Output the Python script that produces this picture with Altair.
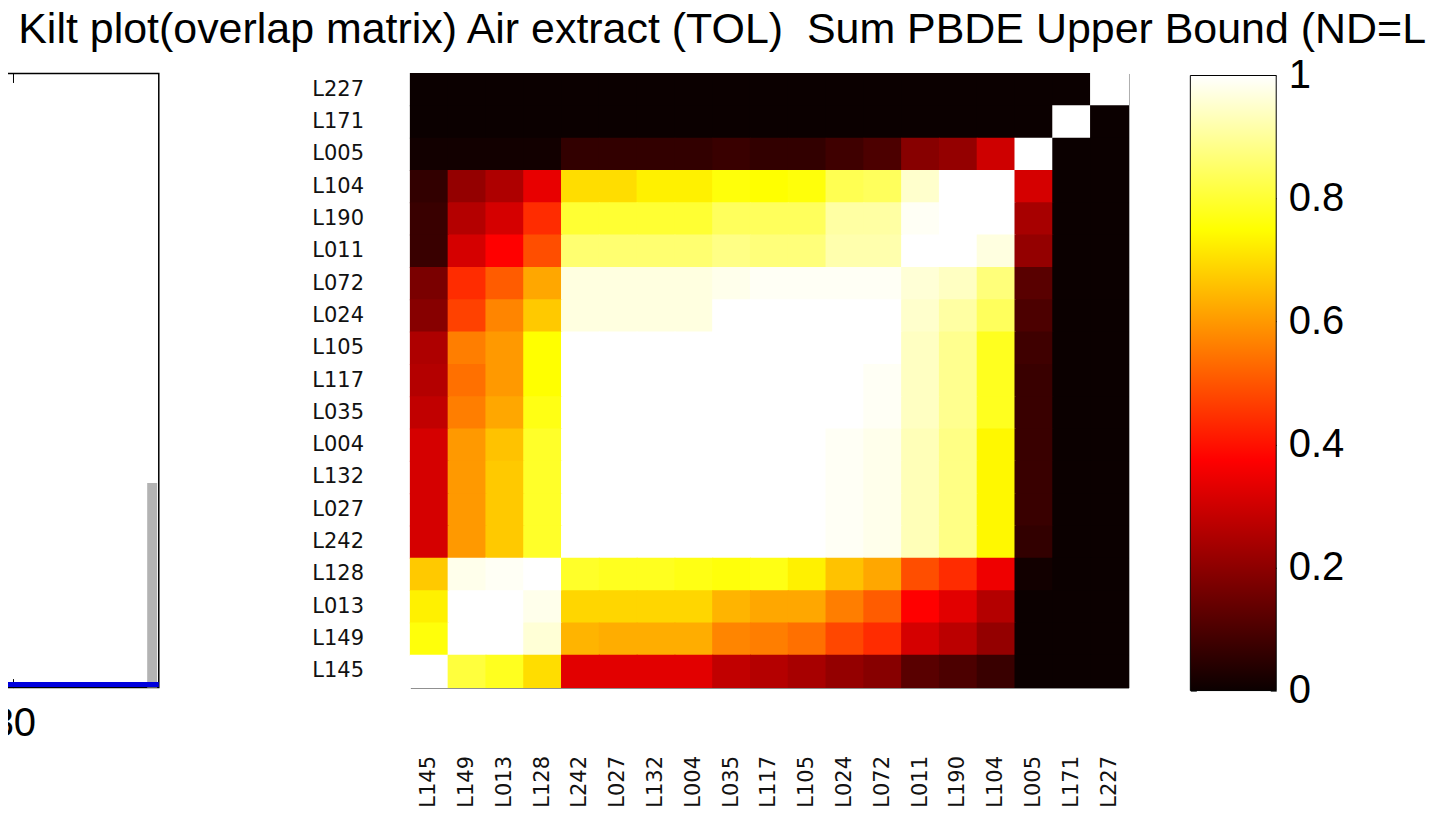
import altair as alt
import pandas as pd

title_text = "Kilt plot(overlap matrix) Air extract (TOL)\u00a0 Sum PBDE Upper Bound (ND=L"

row_labels = ["L227", "L171", "L005", "L104", "L190", "L011", "L072", "L024", "L105", "L117",
              "L035", "L004", "L132", "L027", "L242", "L128", "L013", "L149", "L145"]
col_labels = ["L145", "L149", "L013", "L128", "L242", "L027", "L132", "L004", "L035", "L117",
              "L105", "L024", "L072", "L011", "L190", "L104", "L005", "L171", "L227"]

# overlap values, one list per row (columns in col_labels order)
r_L227 = [0.00, 0.00, 0.00, 0.00, 0.00, 0.00, 0.00, 0.00, 0.00, 0.00, 0.00, 0.00, 0.00, 0.00, 0.00, 0.00, 0.00, 0.00, 1.00]
r_L171 = [0.00, 0.00, 0.00, 0.00, 0.00, 0.00, 0.00, 0.00, 0.00, 0.00, 0.00, 0.00, 0.00, 0.00, 0.00, 0.00, 0.00, 1.00, 0.00]
r_L005 = [0.01, 0.01, 0.01, 0.01, 0.06, 0.06, 0.06, 0.06, 0.07, 0.06, 0.06, 0.08, 0.10, 0.19, 0.21, 0.30, 1.00, 0.00, 0.00]
r_L104 = [0.06, 0.21, 0.25, 0.34, 0.70, 0.70, 0.73, 0.73, 0.76, 0.75, 0.76, 0.83, 0.84, 0.95, 1.00, 1.00, 0.31, 0.00, 0.00]
r_L190 = [0.07, 0.26, 0.31, 0.44, 0.80, 0.80, 0.80, 0.80, 0.84, 0.84, 0.84, 0.91, 0.91, 0.99, 1.00, 1.00, 0.24, 0.00, 0.00]
r_L011 = [0.07, 0.31, 0.375, 0.49, 0.86, 0.86, 0.86, 0.86, 0.88, 0.87, 0.87, 0.92, 0.92, 1.00, 1.00, 0.97, 0.21, 0.00, 0.00]
r_L072 = [0.17, 0.44, 0.51, 0.62, 0.97, 0.97, 0.97, 0.97, 0.98, 0.99, 0.99, 0.99, 0.99, 0.96, 0.94, 0.87, 0.12, 0.00, 0.00]
r_L024 = [0.19, 0.47, 0.57, 0.67, 0.97, 0.97, 0.97, 0.97, 1.00, 1.00, 1.00, 1.00, 1.00, 0.95, 0.91, 0.84, 0.10, 0.00, 0.00]
r_L105 = [0.25, 0.56, 0.60, 0.75, 1.00, 1.00, 1.00, 1.00, 1.00, 1.00, 1.00, 1.00, 1.00, 0.94, 0.89, 0.78, 0.08, 0.00, 0.00]
r_L117 = [0.26, 0.54, 0.60, 0.75, 1.00, 1.00, 1.00, 1.00, 1.00, 1.00, 1.00, 1.00, 0.99, 0.94, 0.89, 0.78, 0.07, 0.00, 0.00]
r_L035 = [0.28, 0.56, 0.62, 0.77, 1.00, 1.00, 1.00, 1.00, 1.00, 1.00, 1.00, 1.00, 0.99, 0.94, 0.89, 0.78, 0.07, 0.00, 0.00]
r_L004 = [0.31, 0.60, 0.66, 0.79, 1.00, 1.00, 1.00, 1.00, 1.00, 1.00, 1.00, 0.99, 0.98, 0.93, 0.88, 0.74, 0.07, 0.00, 0.00]
r_L132 = [0.31, 0.60, 0.67, 0.79, 1.00, 1.00, 1.00, 1.00, 1.00, 1.00, 1.00, 0.99, 0.98, 0.93, 0.88, 0.74, 0.07, 0.00, 0.00]
r_L027 = [0.31, 0.60, 0.67, 0.79, 1.00, 1.00, 1.00, 1.00, 1.00, 1.00, 1.00, 0.99, 0.98, 0.93, 0.88, 0.74, 0.07, 0.00, 0.00]
r_L242 = [0.31, 0.60, 0.67, 0.79, 1.00, 1.00, 1.00, 1.00, 1.00, 1.00, 1.00, 0.99, 0.98, 0.93, 0.88, 0.74, 0.06, 0.00, 0.00]
r_L128 = [0.67, 0.98, 0.99, 1.00, 0.79, 0.78, 0.78, 0.77, 0.76, 0.77, 0.73, 0.66, 0.62, 0.49, 0.44, 0.35, 0.01, 0.00, 0.00]
r_L013 = [0.73, 1.00, 1.00, 0.98, 0.69, 0.69, 0.69, 0.69, 0.64, 0.62, 0.62, 0.56, 0.51, 0.375, 0.33, 0.26, 0.00, 0.00, 0.00]
r_L149 = [0.76, 1.00, 1.00, 0.96, 0.64, 0.63, 0.63, 0.63, 0.57, 0.56, 0.54, 0.48, 0.44, 0.31, 0.27, 0.21, 0.00, 0.00, 0.00]
r_L145 = [1.00, 0.81, 0.78, 0.70, 0.33, 0.33, 0.33, 0.33, 0.28, 0.26, 0.24, 0.21, 0.19, 0.12, 0.10, 0.07, 0.00, 0.00, 0.00]

overlap_rows = [r_L227, r_L171, r_L005, r_L104, r_L190, r_L011, r_L072, r_L024, r_L105, r_L117,
                r_L035, r_L004, r_L132, r_L027, r_L242, r_L128, r_L013, r_L149, r_L145]

# colour bar: one bar spanning 0..1, ticks every 0.2
cbar_lo = [0.0]
cbar_hi = [1.0]
cbar_x0 = [0.0]
cbar_x1 = [1.0]
cbar_ticks = [0, 0.2, 0.4, 0.6, 0.8, 1]
cbar_domain = [-0.0017, 1.0033]

# partially visible left panel (bar + baseline line)
side_bar_x = [31.03]
side_bar_y = [2.0]
side_line_x = [29.4, 31.3]
side_line_y = [0.03, 0.03]
side_x_ticks = [30]
side_y_ticks = [0, 1, 2, 3, 4, 5, 6]
side_x_domain = [29.634, 31.042]
side_y_domain = [0, 6]

# MATLAB "hot" colormap stops
hot_stops = [0, 0.375, 0.75, 1]
hot_colors = ["#0b0000", "#ff0000", "#ffff00", "#ffffff"]

records = []
for rlab, vals in zip(row_labels, overlap_rows):
    for clab, v in zip(col_labels, vals):
        records.append({"row": rlab, "col": clab, "value": v})
heat_df = pd.DataFrame(records)

color_scale = alt.Scale(domain=hot_stops, range=hot_colors, interpolate="rgb")

heat = alt.Chart(heat_df).mark_rect(
    width=alt.RelativeBandSize(1.03), height=alt.RelativeBandSize(1.03)
).encode(
    x=alt.X("col:N", sort=col_labels, title=None,
            axis=alt.Axis(labelAngle=270, labelFont="DejaVu Sans", labelFontSize=21,
                          labelColor="#111111", ticks=False, domain=False,
                          labelPadding=68, grid=False)),
    y=alt.Y("row:N", sort=row_labels, title=None,
            axis=alt.Axis(labelFont="DejaVu Sans", labelFontSize=21, labelColor="#111111",
                          ticks=False, domain=False, labelPadding=47, grid=False)),
    color=alt.Color("value:Q", scale=color_scale, legend=None),
).properties(width=719, height=615,
             view=alt.ViewBackground(stroke="#444444", strokeWidth=1))

# colour bar panel
hot_gradient = alt.LinearGradient(
    gradient="linear",
    stops=[alt.GradientStop(offset=s, color=c) for s, c in zip(hot_stops, hot_colors)],
    x1=0, x2=0, y1=1, y2=0,
)
cbar_df = pd.DataFrame({"lo": cbar_lo, "hi": cbar_hi, "x0": cbar_x0, "x1": cbar_x1})
cscale_y = alt.Scale(domain=cbar_domain, nice=False, zero=False)
cscale_x = alt.Scale(domain=[0, 1], nice=False, zero=False)
cbar_main = alt.Chart(cbar_df).mark_rect(fill=hot_gradient, stroke="black", strokeWidth=1).encode(
    x=alt.X("x0:Q", scale=cscale_x, axis=None),
    x2="x1",
    y=alt.Y("lo:Q", scale=cscale_y, title=None,
            axis=alt.Axis(orient="right", values=cbar_ticks, format="~g",
                          labelFont="Liberation Sans", labelFontSize=40, labelColor="black",
                          tickSize=6, offset=-6, tickColor="black", domain=False,
                          grid=False, labelPadding=12, labelBaseline="middle",
                          labelFlush=False, labelOverlap=False)),
    y2="hi",
)
cbar_left = alt.Chart(cbar_df).mark_rect(opacity=0).encode(
    x=alt.X("x0:Q", scale=cscale_x, axis=None),
    x2="x1",
    y=alt.Y("lo:Q", scale=cscale_y, title=None,
            axis=alt.Axis(orient="left", values=cbar_ticks, labels=False,
                          tickSize=6, offset=-6, tickColor="black", domain=False,
                          grid=False)),
    y2="hi",
)
cbar = alt.layer(cbar_main, cbar_left).resolve_axis(y="independent").properties(
    width=86, height=619,
    view=alt.ViewBackground(strokeWidth=0))

# left panel
xs = alt.Scale(domain=side_x_domain, nice=False, zero=False)
ys = alt.Scale(domain=side_y_domain, nice=False, zero=False)

bar_df = pd.DataFrame({"x": side_bar_x, "y": side_bar_y})
line_df = pd.DataFrame({"x": side_line_x, "y": side_line_y})

bars = alt.Chart(bar_df).mark_bar(color="#b3b3b3", size=10, orient="vertical").encode(
    x=alt.X("x:Q", scale=xs, title=None,
            axis=alt.Axis(orient="bottom", values=side_x_ticks, format="d",
                          labelFont="Liberation Sans", labelFontSize=40, labelColor="black",
                          tickSize=9, offset=-9, tickColor="black", domain=False,
                          grid=False, labelPadding=16, zindex=0)),
    y=alt.Y("y:Q", scale=ys, title=None,
            axis=alt.Axis(orient="right", values=side_y_ticks, labels=False,
                          tickSize=9, offset=-9, tickColor="black", domain=False,
                          grid=False, zindex=0)),
)

line = alt.Chart(line_df).mark_line(color="#0000dd", strokeWidth=5, clip=True).encode(
    x=alt.X("x:Q", scale=xs, title=None,
            axis=alt.Axis(orient="top", values=side_x_ticks, labels=False,
                          tickSize=9, offset=-9, tickColor="black", domain=False,
                          grid=False, zindex=0)),
    y=alt.Y("y:Q", scale=ys, title=None, axis=None),
)

side = alt.layer(bars, line).resolve_axis(x="independent").properties(
    width=200, height=615,
    view=alt.ViewBackground(stroke="black", strokeWidth=1.5))

right_block = alt.hconcat(heat, cbar, spacing=62, bounds="flush")

chart = alt.hconcat(side, right_block, spacing=252, bounds="flush").properties(
    title=alt.TitleParams(title_text, anchor="start", dx=60, fontSize=43,
                          font="Liberation Sans", fontWeight="normal", color="black",
                          offset=4),
    padding={"left": -50, "top": 0, "right": 0, "bottom": 0},
    background="white",
).configure(font="Liberation Sans")

chart.save("out.html", embed_options={"renderer": "svg", "actions": False})
